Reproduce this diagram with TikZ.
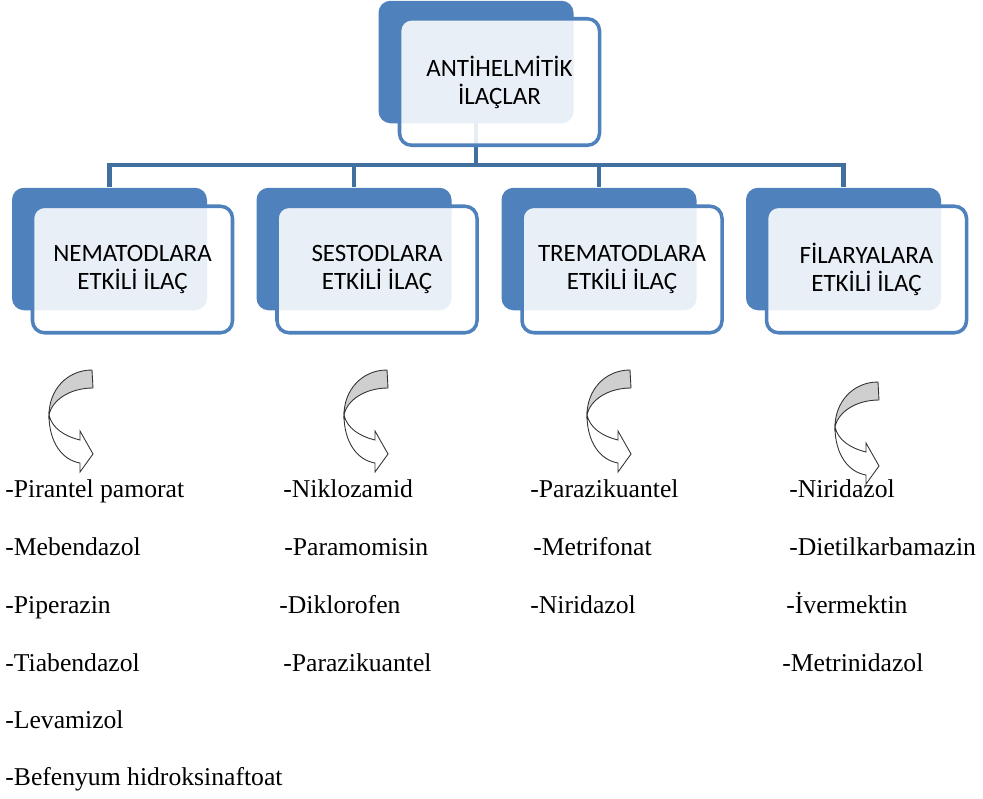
\documentclass[tikz,border=0pt]{standalone}
\usepackage{fontspec}
\setmainfont{Liberation Serif}
\newfontfamily\boxfont{Carlito}
\usetikzlibrary{calc}
\usetikzlibrary{backgrounds}
\definecolor{boxblue}{HTML}{4F81BD}
\definecolor{linkblue}{HTML}{41709F}
\definecolor{arrowgrey}{HTML}{CFCFCF}
\tikzset{
  backbox/.style={fill=boxblue, rounded corners=.24cm, minimum width=3.9cm, minimum height=2.45cm, inner sep=0},
  frontbox/.style={draw=boxblue, line width=2pt, fill=white, fill opacity=.88, text opacity=1, rounded corners=.24cm, minimum width=4cm, minimum height=2.53cm, align=center, font=\boxfont\fontsize{14.2}{16}\selectfont},
  link/.style={draw=linkblue, line width=2.3pt},
  drug/.style={anchor=base west, inner sep=0, font=\fontsize{14.6}{17}\selectfont},
  turnarrow/.pic={
    \draw[line width=.5pt, draw=black!80, fill=white] (-.86,-.9) .. controls (-.86,-1.44) and (-.6,-1.8) .. (-.24,-1.86) -- (-.24,-2.04) -- (.02,-1.68) -- (-.24,-1.22) -- (-.24,-1.4) .. controls (-.56,-1.32) and (-.8,-1.16) .. (-.86,-.9) -- cycle;
    \draw[line width=.5pt, draw=black!80, fill=arrowgrey] (0,0) .. controls (-.5,0) and (-.86,-.4) .. (-.86,-.9) .. controls (-.8,-.6) and (-.44,-.36) .. (.02,-.36) -- cycle;
  }
}

\begin{document}
\begin{tikzpicture}
\useasboundingbox (0,0) rectangle (19.66,-15.96);
\node[backbox] (top) at (9.52,-1.24) {};
\node[frontbox] (topf) at ([shift={(.47,-.4)}]top) {ANTİHELMİTİK\\İLAÇLAR};
\node[backbox] (nema) at (2.19,-4.98) {};
\node[frontbox] (nemaf) at ([shift={(.46,-.41)}]nema) {NEMATODLARA\\ETKİLİ İLAÇ};
\node[backbox] (sesto) at (7.08,-4.98) {};
\node[frontbox] (sestof) at ([shift={(.46,-.41)}]sesto) {SESTODLARA\\ETKİLİ İLAÇ};
\node[backbox] (trema) at (11.98,-4.98) {};
\node[frontbox] (tremaf) at ([shift={(.46,-.41)}]trema) {TREMATODLARA\\ETKİLİ İLAÇ};
\node[backbox] (filar) at (16.87,-4.98) {};
\node[frontbox] (filarf) at ([shift={(.46,-.41)}]filar) {FİLARYALARA\\ETKİLİ İLAÇ};
\coordinate (bus) at (9.52,-3.3);
\begin{scope}[on background layer]
\draw[link] (top.center) -- (bus);
\draw[link] (bus) -| (nema.north);
\draw[link] (bus) -| (sesto.north);
\draw[link] (bus) -| (trema.north);
\draw[link] (bus) -| (filar.north);
\end{scope}
\pic at (1.84,-7.4) {turnarrow};
\pic at (7.74,-7.4) {turnarrow};
\pic at (12.6,-7.4) {turnarrow};
\pic at (17.56,-7.64) {turnarrow};
\node[drug] (n1) at (.1,-9.94) {-Pirantel pamorat};
\node[drug] (n2) at (.1,-11.1) {-Mebendazol};
\node[drug] (n3) at (.1,-12.26) {-Piperazin};
\node[drug] (n4) at (.1,-13.42) {-Tiabendazol};
\node[drug] (n5) at (.1,-14.56) {-Levamizol};
\node[drug] (n6) at (.1,-15.7) {-Befenyum hidroksinaftoat};
\node[drug] (s1) at (5.66,-9.94) {-Niklozamid};
\node[drug] (s2) at (5.68,-11.1) {-Paramomisin};
\node[drug] (s3) at (5.58,-12.26) {-Diklorofen};
\node[drug] (s4) at (5.66,-13.42) {-Parazikuantel};
\node[drug] (t1) at (10.6,-9.94) {-Parazikuantel};
\node[drug] (t2) at (10.66,-11.1) {-Metrifonat};
\node[drug] (t3) at (10.6,-12.26) {-Niridazol};
\node[drug] (f1) at (15.78,-9.94) {-Niridazol};
\node[drug] (f2) at (15.78,-11.1) {-Dietilkarbamazin};
\node[drug] (f3) at (15.72,-12.26) {-İvermektin};
\node[drug] (f4) at (15.64,-13.42) {-Metrinidazol};
\end{tikzpicture}
\end{document}
